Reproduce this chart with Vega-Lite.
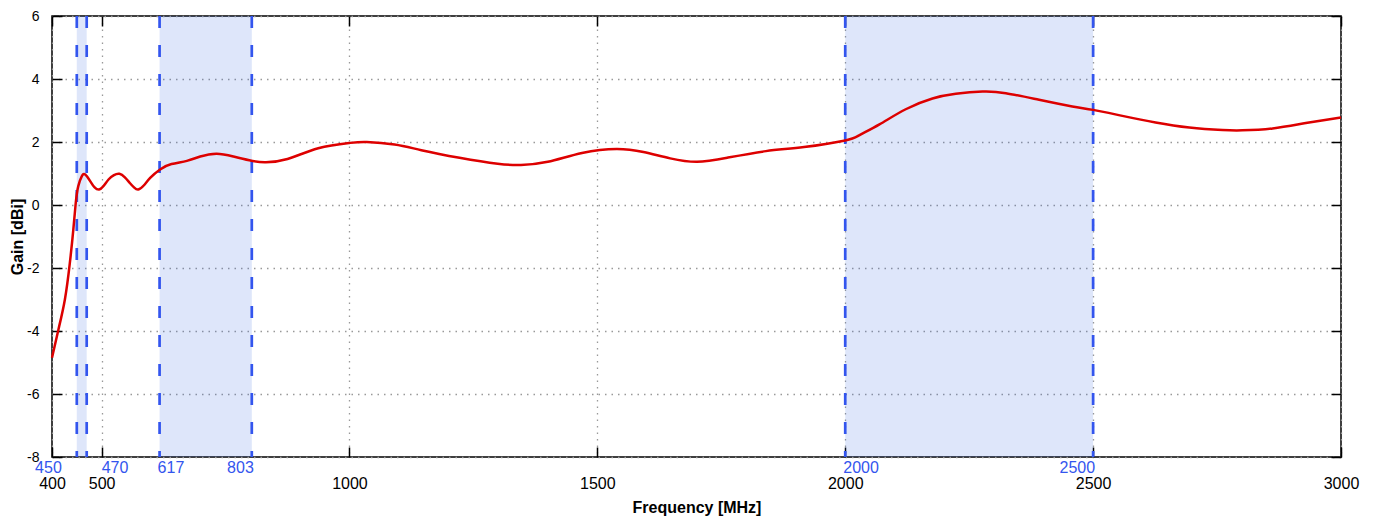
{
  "$schema": "https://vega.github.io/schema/vega-lite/v6.json",
  "width": 1289,
  "height": 441,
  "autosize": {"type": "none"},
  "padding": {"left": 52, "top": 16, "right": 37, "bottom": 64},
  "background": "white",
  "config": {
    "view": {"stroke": "black", "strokeWidth": 1.5},
    "font": "Liberation Sans",
    "axis": {"labelFont": "Liberation Sans", "titleFont": "Liberation Sans"}
  },
  "datasets": {
    "gain": [
      {"f": 400, "g": -4.85}, {"f": 413, "g": -3.95}, {"f": 426, "g": -3.0}, {"f": 436, "g": -1.84},
      {"f": 443, "g": -0.78}, {"f": 448, "g": 0.08}, {"f": 453, "g": 0.6}, {"f": 460, "g": 0.91},
      {"f": 467, "g": 0.97}, {"f": 477, "g": 0.76}, {"f": 486, "g": 0.56}, {"f": 495, "g": 0.49},
      {"f": 504, "g": 0.6}, {"f": 514, "g": 0.81}, {"f": 525, "g": 0.95}, {"f": 536, "g": 0.99},
      {"f": 547, "g": 0.88}, {"f": 557, "g": 0.7}, {"f": 566, "g": 0.55}, {"f": 574, "g": 0.49},
      {"f": 585, "g": 0.62}, {"f": 598, "g": 0.86}, {"f": 618, "g": 1.13}, {"f": 641, "g": 1.3},
      {"f": 672, "g": 1.4}, {"f": 699, "g": 1.54}, {"f": 732, "g": 1.63}, {"f": 766, "g": 1.54},
      {"f": 798, "g": 1.42}, {"f": 829, "g": 1.36}, {"f": 875, "g": 1.46}, {"f": 937, "g": 1.8},
      {"f": 1000, "g": 1.97}, {"f": 1035, "g": 2.0}, {"f": 1091, "g": 1.92}, {"f": 1145, "g": 1.74},
      {"f": 1222, "g": 1.5}, {"f": 1299, "g": 1.31}, {"f": 1346, "g": 1.27}, {"f": 1400, "g": 1.37},
      {"f": 1469, "g": 1.65}, {"f": 1539, "g": 1.78}, {"f": 1593, "g": 1.68}, {"f": 1647, "g": 1.48},
      {"f": 1701, "g": 1.37}, {"f": 1762, "g": 1.5}, {"f": 1840, "g": 1.71}, {"f": 1917, "g": 1.84},
      {"f": 2000, "g": 2.05}, {"f": 2028, "g": 2.21}, {"f": 2069, "g": 2.56}, {"f": 2122, "g": 3.04},
      {"f": 2176, "g": 3.38}, {"f": 2223, "g": 3.53}, {"f": 2277, "g": 3.6}, {"f": 2324, "g": 3.55},
      {"f": 2391, "g": 3.34}, {"f": 2458, "g": 3.13}, {"f": 2500, "g": 3.02}, {"f": 2559, "g": 2.83},
      {"f": 2626, "g": 2.62}, {"f": 2694, "g": 2.46}, {"f": 2761, "g": 2.38}, {"f": 2801, "g": 2.37},
      {"f": 2862, "g": 2.43}, {"f": 2929, "g": 2.6}, {"f": 3000, "g": 2.78}
    ],
    "bands": [
      {"lo": 450, "hi": 470}, {"lo": 617, "hi": 803}, {"lo": 2000, "hi": 2500}
    ],
    "edges": [
      {"f": 450}, {"f": 470}, {"f": 617}, {"f": 803}, {"f": 2000}, {"f": 2500}
    ]
  },
  "resolve": {"axis": {"x": "independent", "y": "independent"}},
  "layer": [
    {
      "data": {"name": "bands"},
      "mark": {"type": "rect", "color": "#2255dd", "opacity": 0.15},
      "encoding": {
        "x": {"field": "lo", "type": "quantitative", "scale": {"domain": [400, 3000], "nice": false, "zero": false}, "axis": null},
        "x2": {"field": "hi"}
      }
    },
    {
      "data": {"name": "gain"},
      "mark": {"type": "point", "opacity": 0},
      "encoding": {
        "x": {"field": "f", "type": "quantitative", "axis": {
          "orient": "top", "values": [400, 500, 1000, 1500, 2000, 2500, 3000], "labels": false, "grid": false,
          "domain": false, "tickSize": -10, "tickColor": "black", "tickWidth": 1.5, "title": null}},
        "y": {"field": "g", "type": "quantitative", "axis": {
          "orient": "right", "values": [-8, -6, -4, -2, 0, 2, 4, 6], "labels": false, "grid": false,
          "domain": false, "tickSize": -10, "tickColor": "black", "tickWidth": 1.5, "title": null}}
      }
    },
    {
      "data": {"name": "edges"},
      "mark": {"type": "rule", "color": "#3355ee", "strokeWidth": 2.7, "strokeDash": [12, 17]},
      "encoding": {
        "x": {"field": "f", "type": "quantitative", "axis": null}
      }
    },
    {
      "data": {"name": "gain"},
      "mark": {"type": "line", "color": "#dd0000", "strokeWidth": 2.5, "interpolate": "natural"},
      "encoding": {
        "x": {"field": "f", "type": "quantitative", "axis": {
          "values": [400, 500, 1000, 1500, 2000, 2500, 3000], "grid": true, "gridColor": "#999999",
          "gridDash": [1.5, 5], "gridWidth": 1.3, "domain": false, "tickSize": -10, "tickColor": "black",
          "tickWidth": 1.5, "labelFontSize": 16, "labelColor": "black", "labelPadding": 36,
          "labelBaseline": "middle", "labelFlush": false, "labelExpr": "'' + datum.value",
          "title": "Frequency [MHz]", "titleFontSize": 16,
          "titleFontWeight": "bold", "titleColor": "black", "titleY": 50, "titleBaseline": "middle"}},
        "y": {"field": "g", "type": "quantitative", "scale": {"domain": [-8, 6], "nice": false, "zero": false}, "axis": {
          "values": [-8, -6, -4, -2, 0, 2, 4, 6], "grid": true, "gridColor": "#999999",
          "gridDash": [1.5, 5], "gridWidth": 1.3, "domain": false, "tickSize": -10, "tickColor": "black",
          "tickWidth": 1.5, "labelFontSize": 14, "labelColor": "black", "labelPadding": 23,
          "labelExpr": "'' + datum.value",
          "title": "Gain [dBi]", "titleFontSize": 16, "titleFontWeight": "bold", "titleColor": "black",
          "titleX": -35, "titleY": 220.5, "titleAngle": -90, "titleBaseline": "middle"}}
      }
    },
    {
      "data": {"name": "edges"},
      "transform": [{"filter": "datum.f == 617 || datum.f == 2000"}],
      "mark": {"type": "text", "color": "#3355ee", "fontSize": 16, "align": "left", "baseline": "middle", "dy": 11, "dx": -2},
      "encoding": {
        "x": {"field": "f", "type": "quantitative", "axis": null},
        "y": {"datum": -8, "axis": null},
        "text": {"field": "f", "type": "nominal"}
      }
    },
    {
      "data": {"name": "edges"},
      "transform": [{"filter": "datum.f == 803 || datum.f == 2500"}],
      "mark": {"type": "text", "color": "#3355ee", "fontSize": 16, "align": "right", "baseline": "middle", "dy": 11, "dx": 2},
      "encoding": {
        "x": {"field": "f", "type": "quantitative", "axis": null},
        "y": {"datum": -8, "axis": null},
        "text": {"field": "f", "type": "nominal"}
      }
    },
    {
      "data": {"name": "edges"},
      "transform": [{"filter": "datum.f == 450"}],
      "mark": {"type": "text", "color": "#3355ee", "fontSize": 16, "align": "right", "baseline": "middle", "dy": 11, "dx": -15},
      "encoding": {
        "x": {"field": "f", "type": "quantitative", "axis": null},
        "y": {"datum": -8, "axis": null},
        "text": {"field": "f", "type": "nominal"}
      }
    },
    {
      "data": {"name": "edges"},
      "transform": [{"filter": "datum.f == 470"}],
      "mark": {"type": "text", "color": "#3355ee", "fontSize": 16, "align": "left", "baseline": "middle", "dy": 11, "dx": 15},
      "encoding": {
        "x": {"field": "f", "type": "quantitative", "axis": null},
        "y": {"datum": -8, "axis": null},
        "text": {"field": "f", "type": "nominal"}
      }
    }
  ]
}
